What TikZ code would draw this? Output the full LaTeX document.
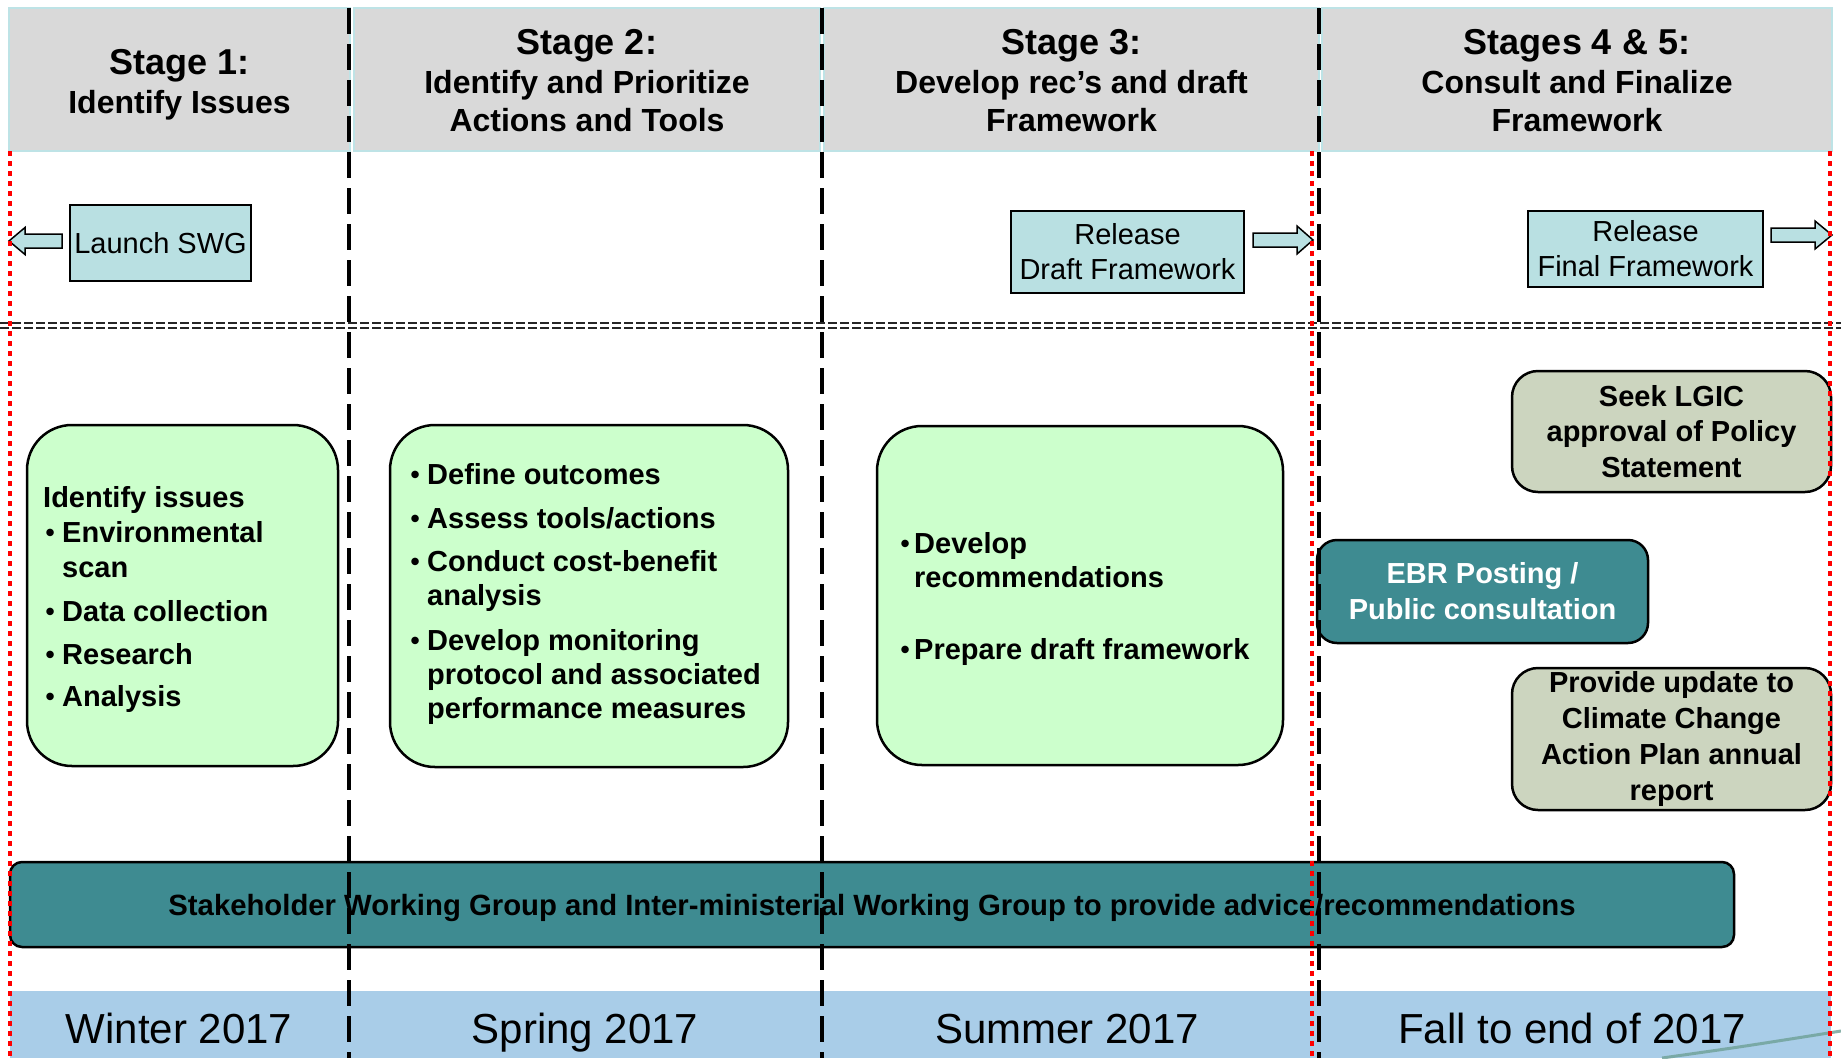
\documentclass[tikz,border=0pt]{standalone}
\usepackage{fontspec}
\setmainfont{Liberation Sans}
\newcommand\myfs[2]{\fontsize{#1}{#2}\selectfont}
\newcommand\bul[1]{\makebox[#1][l]{\raisebox{0.8pt}{\myfs{26}{26}•}}}
\definecolor{headgray}{RGB}{217,217,217}
\definecolor{headedge}{RGB}{190,227,230}
\definecolor{launchfill}{RGB}{185,224,226}
\definecolor{lightgreen}{RGB}{204,255,204}
\definecolor{sage}{RGB}{204,213,191}
\definecolor{tealbox}{RGB}{62,139,145}
\definecolor{bandblue}{RGB}{169,205,232}
\definecolor{curvegreen}{RGB}{110,160,150}
\begin{document}
\begin{tikzpicture}[x=1pt,y=-1pt,
  hdr/.style={fill=headgray, draw=headedge, line width=1.5pt, inner sep=0pt},
  ttl/.style={font=\bfseries\myfs{36}{40}, inner sep=0pt, anchor=base},
  subttl/.style={font=\bfseries\myfs{32}{38}, inner sep=0pt, anchor=base},
  relbox/.style={draw=black, line width=2pt, fill=launchfill, align=center, font=\myfs{29}{35}, inner sep=0pt},
  blockarrow/.style={draw=black, line width=1.5pt, fill=launchfill, line join=miter},
  gbox/.style={draw=black, line width=2.5pt, fill=lightgreen, rounded corners=45pt, inner sep=0pt},
  bt/.style={font=\bfseries\myfs{29}{35}, inner sep=0pt, anchor=base west},
  sbox/.style={draw=black, line width=2.5pt, fill=sage, rounded corners=26pt, inner sep=0pt, align=center, font=\bfseries\myfs{29}{35.5}},
  ebox/.style={draw=black, line width=2.5pt, fill=tealbox, rounded corners=20pt, inner sep=0pt, align=center, text=white, font=\bfseries\myfs{29}{36}},
  barbox/.style={draw=black, line width=2.5pt, fill=tealbox, rounded corners=12pt, inner sep=0pt, font=\bfseries\myfs{29.3}{32}, text depth=0pt},
  season/.style={font=\myfs{42}{46}, inner sep=0pt, anchor=base},
  bdash/.style={draw=black, line width=4.5pt, dash pattern=on 26pt off 10pt},
  rdot/.style={draw=red, line width=4pt, dash pattern=on 5pt off 5pt},
  hdash/.style={draw=black!85, line width=1.5pt, dash pattern=on 9pt off 3pt}
]
\useasboundingbox (0,0) rectangle (1841,1058);
\fill[white] (0,0) rectangle (1841,1058);

% header boxes
\node[hdr, minimum width=341pt, minimum height=143pt] (hb1) at (179.5,79.5) {};
\node[hdr, minimum width=466pt, minimum height=143pt] (hb2) at (587,79.5) {};
\node[hdr, minimum width=495pt, minimum height=143pt] (hb3) at (1071.5,79.5) {};
\node[hdr, minimum width=510pt, minimum height=143pt] (hb4) at (1577,79.5) {};

% header texts
\node[ttl] (h1t) at (179.5,74) {Stage 1:};
\node[subttl] (h1s) at (179.5,113) {Identify Issues};
\node[ttl] (h2t) at (587,54) {Stage 2:};
\node[subttl] (h2s) at (587,93) {Identify and Prioritize};
\node[subttl] (h2u) at (587,131) {Actions and Tools};
\node[ttl] (h3t) at (1071.5,54) {Stage 3:};
\node[subttl] (h3s) at (1071.5,93) {Develop rec’s and draft};
\node[subttl] (h3u) at (1071.5,131) {Framework};
\node[ttl] (h4t) at (1577,54) {Stages 4 \& 5:};
\node[subttl] (h4s) at (1577,93) {Consult and Finalize};
\node[subttl] (h4u) at (1577,131) {Framework};

% release boxes
\node[relbox, minimum width=181pt, minimum height=76pt] (launch) at (160.5,243) {Launch SWG};
\node[relbox, minimum width=233pt, minimum height=82pt] (rdraft) at (1127.5,252) {Release\\Draft Framework};
\node[relbox, minimum width=235pt, minimum height=76pt] (rfinal) at (1645.5,249) {Release\\Final Framework};

% block arrows
\draw[blockarrow] (9,241) -- (25,227.5) -- (25,234) -- (62,234) -- (62,248) -- (25,248) -- (25,254.5) -- cycle;
\draw[blockarrow] (1253,233) -- (1297,233) -- (1297,226) -- (1313,240) -- (1297,254) -- (1297,247) -- (1253,247) -- cycle;
\draw[blockarrow] (1771,228) -- (1815,228) -- (1815,221) -- (1832,235) -- (1815,249) -- (1815,242) -- (1771,242) -- cycle;

% horizontal double dashed line
\draw[hdash] (0,323) -- (1841,323);
\draw[hdash] (0,328) -- (1841,328);

% green boxes
\node[gbox, minimum width=311pt, minimum height=341pt] (g1) at (182.5,595.5) {};
\node[gbox, minimum width=398pt, minimum height=342pt] (g2) at (589,596) {};
\node[gbox, minimum width=406pt, minimum height=339pt] (g3) at (1080,595.5) {};

% box 1 text
\node[bt] (g1a) at (43,507) {Identify issues};
\node[bt] (g1b) at (45.5,542) {\bul{16.5pt}Environmental};
\node[bt] (g1c) at (62,577) {scan};
\node[bt] (g1d) at (45.5,621) {\bul{16.5pt}Data collection};
\node[bt] (g1e) at (45.5,664) {\bul{16.5pt}Research};
\node[bt] (g1f) at (45.5,706) {\bul{16.5pt}Analysis};

% box 2 text
\node[bt] (g2a) at (410.5,484) {\bul{16.5pt}Define outcomes};
\node[bt] (g2b) at (410.5,528) {\bul{16.5pt}Assess tools/actions};
\node[bt] (g2c) at (410.5,571) {\bul{16.5pt}Conduct cost-benefit};
\node[bt] (g2d) at (427,605) {analysis};
\node[bt] (g2e) at (410.5,650) {\bul{16.5pt}Develop monitoring};
\node[bt] (g2f) at (427,684) {protocol and associated};
\node[bt] (g2g) at (427,718) {performance measures};

% box 3 text
\node[bt] (g3a) at (900.5,553) {\bul{13.5pt}Develop};
\node[bt] (g3b) at (914,587) {recommendations};
\node[bt] (g3c) at (900.5,659) {\bul{13.5pt}Prepare draft framework};

% stage 4/5 boxes
\node[sbox, minimum width=319pt, minimum height=121pt] (lgic) at (1671.5,431.5) {Seek LGIC\\approval of Policy\\Statement};
\node[ebox, minimum width=331pt, minimum height=103pt] (ebr) at (1482.5,591.5) {EBR Posting /\\Public consultation};
\node[sbox, minimum width=319pt, minimum height=142pt, font=\bfseries\myfs{29}{35.7}] (ccap) at (1671.5,739) {Provide update to\\Climate Change\\Action Plan annual\\report};

% stakeholder bar
\node[barbox, minimum width=1724pt, minimum height=85pt] (swg) at (872,904.5) {Stakeholder Working Group and Inter-ministerial Working Group to provide advice/recommendations};

% bottom band
\fill[bandblue] (10,991) rectangle (1831,1058);
\draw[curvegreen, line width=3pt, opacity=0.8] (1662,1058) .. controls (1740,1047) .. (1841,1031);
\node[season] (s1) at (179,1043) {Winter 2017};
\node[season] (s2) at (585,1043) {Spring 2017};
\node[season] (s3) at (1067,1043) {Summer 2017};
\node[season] (s4) at (1572,1043) {Fall to end of 2017};

% vertical separators
\foreach \xx in {349,822,1319} \draw[bdash] (\xx,8) -- (\xx,1058);
\foreach \xx in {10,1312,1830} \draw[rdot] (\xx,151) -- (\xx,1058);
\end{tikzpicture}
\end{document}
